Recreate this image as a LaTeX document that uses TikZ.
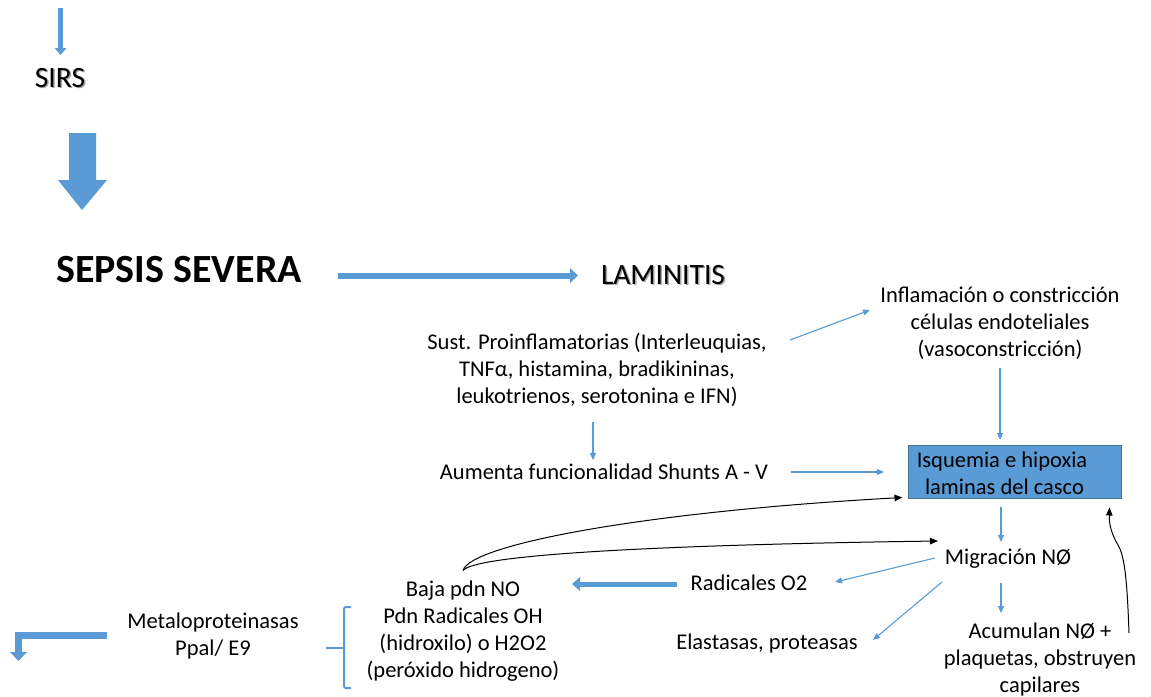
\documentclass[tikz,border=0pt]{standalone}
\usepackage{fontspec}
\setmainfont{Carlito}
\usetikzlibrary{arrows.meta,calc}
\definecolor{oblue}{HTML}{5B9BD5}
\definecolor{oborder}{HTML}{41719C}
\tikzset{
  txt/.style={inner sep=0pt, align=center, font=\fontsize{22.5}{27}\selectfont},
  big/.style={inner sep=0pt, font=\fontsize{29.5}{34}\selectfont},
  shadowtxt/.style={inner sep=0pt, text=black!35, font=\fontsize{29.5}{34}\selectfont},
  thinarr/.style={draw=oblue, line width=1.1pt, -{Triangle[length=7pt,width=6pt]}},
  blackarr/.style={draw=black, line width=1pt, -{Triangle[length=8pt,width=6.5pt]}},
  thickarr/.style={draw=oblue, line width=6pt, -{Triangle[length=8pt,width=15pt,line width=0pt]}},
  boxnode/.style={draw=oborder, line width=1pt, fill=oblue, minimum width=213pt, minimum height=53pt, inner sep=0pt}
}
\begin{document}
\begin{tikzpicture}[x=1pt,y=-1pt]
\useasboundingbox (0,0) rectangle (1151,696);

% nodes
\node[shadowtxt] at (61.5,79.5) {SIRS};
\node[big] (sirs) at (60,78) {SIRS};
\node[inner sep=0pt, font=\fontsize{40}{46}\selectfont\bfseries] (sepsis) at (179,270) {SEPSIS SEVERA};
\node[shadowtxt] at (664.5,276.5) {LAMINITIS};
\node[big] (lam) at (663,275) {LAMINITIS};
\node[txt] (inflam) at (1000,323) {Inflamación o constricción\\células endoteliales\\(vasoconstricción)};
\node[txt] (sust) at (597,370) {Sust. Proinflamatorias (Interleuquias,\\TNFα, histamina, bradikininas,\\leukotrienos, serotonina e IFN)};
\node[txt] (aum) at (604,472) {Aumenta funcionalidad Shunts A - V};
\node[boxnode] (isq) at (1014.5,471.5) {};
\node[txt] (isqt) at (1002,473) {Isquemia e hipoxia\\\hspace*{5pt}laminas del casco};
\node[txt] (mig) at (1008,559) {Migración NØ};
\node[txt] (rad) at (749,583) {Radicales O2};
\node[txt] (baja) at (463,631.5) {Baja pdn NO\\Pdn Radicales OH\\(hidroxilo) o H2O2\\(peróxido hidrogeno)};
\node[txt] (meta) at (213,635.5) {Metaloproteinasas\\Ppal/ E9};
\node[txt] (elas) at (767,643) {Elastasas, proteasas};
\node[txt] (acum) at (1040,659) {Acumulan NØ +\\plaquetas, obstruyen\\capilares};

% top small arrow into SIRS
\coordinate (top) at (60.5,8);
\draw[draw=oblue, line width=5pt, -{Triangle[length=7pt,width=12pt,line width=0pt]}] (top) -- ($(sirs)+(0.5,-23)$);

% big block arrow SIRS -> SEPSIS
\fill[oblue] ($(sirs)+(9,55)$) -- ($(sirs)+(36,55)$) -- ($(sirs)+(36,102)$) -- ($(sirs)+(47,102)$)
  -- ($(sepsis)+(-97,-60)$) -- ($(sirs)+(-2,102)$) -- ($(sirs)+(9,102)$) -- cycle;

% SEPSIS -> LAMINITIS
\draw[thickarr] ($(sepsis)+(159,5.5)$) -- ($(lam)+(-85,0.5)$);

% thin blue arrows
\draw[thinarr] ($(sust)+(193,-30)$) -- ($(inflam)+(-130,-13)$);
\draw[thinarr] ($(inflam)+(0,45)$) -- ($(isq)+(-14.5,-31.5)$);
\draw[thinarr] ($(sust)+(-4,52)$) -- ($(aum)+(-11,-12)$);
\draw[thinarr] ($(aum)+(187,0)$) -- ($(isq)+(-130.5,0.5)$);
\draw[thinarr] ($(isq)+(-13.5,35.5)$) -- ($(mig)+(-7,-17)$);
\draw[thinarr] ($(mig)+(-73,-1)$) -- ($(rad)+(86,-1)$);
\draw[thinarr] ($(mig)+(-66,23)$) -- ($(elas)+(106,-3)$);
\draw[thinarr] ($(mig)+(-7,24)$) -- ($(acum)+(-39,-46)$);

% Radicales -> Baja (thick, left)
\draw[draw=oblue, line width=5pt, -{Triangle[length=8pt,width=14pt,line width=0pt]}] ($(rad)+(-72,1)$) -- ($(baja)+(109,-47.5)$);

% black curved arrows
\draw[blackarr] ($(baja)+(0,-61)$) .. controls (470,545) and (640,512) .. ($(isq.south west)+(-5,-1)$);
\draw[blackarr] ($(baja)+(0,-61)$) .. controls (475,555) and (650,545) .. ($(mig)+(-70,-18)$);
\draw[blackarr] ($(acum)+(89,-26)$) .. controls (1127,575) and (1124,555) .. (1118,545)
  .. controls (1112,535) and (1109,525) .. ($(isq.south east)+(-12,9)$);

% bracket
\draw[oblue, line width=2pt, rounded corners=2pt] (351,607) -- (344,607) -- (344,688) -- (351,688);
\draw[oblue, line width=2pt] (326,648) -- (344,648);

% bent arrow from Metaloproteinasas
\draw[draw=oblue, line width=7pt, miter limit=10, -{Triangle[length=9pt,width=17pt,line width=0pt]}] ($(meta)+(-106,0)$) -| ($(meta)+(-194.5,25.5)$);
\end{tikzpicture}
\end{document}
